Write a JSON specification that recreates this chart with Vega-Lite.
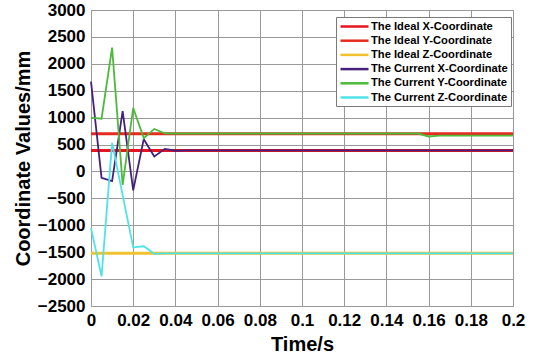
{
  "$schema": "https://vega.github.io/schema/vega-lite/v6.json",
  "width": 422,
  "height": 296,
  "autosize": {"type": "none"},
  "padding": {"left": 91, "top": 10, "right": 21, "bottom": 55},
  "background": "white",
  "config": {
    "font": "Liberation Sans",
    "view": {"stroke": "#8a8a8a", "strokeWidth": 1},
    "axis": {
      "labelFont": "Liberation Sans", "labelFontWeight": "bold", "labelFontSize": 17, "labelColor": "black",
      "titleFont": "Liberation Sans", "titleFontWeight": "bold", "titleFontSize": 20, "titleColor": "black",
      "grid": true, "gridColor": "#9a9a9a", "gridOpacity": 1, "gridWidth": 1,
      "ticks": false, "domain": false, "labelPadding": 6
    },
    "legend": {"strokeColor": "#7a7a7a", "fillColor": "white", "strokeWidth": 1}
  },
  "datasets": {
    "ideal": [
      {"t": 0, "v": 390, "series": "The Ideal X-Coordinate"},
      {"t": 0.2, "v": 390, "series": "The Ideal X-Coordinate"},
      {"t": 0, "v": 700, "series": "The Ideal Y-Coordinate"},
      {"t": 0.2, "v": 700, "series": "The Ideal Y-Coordinate"},
      {"t": 0, "v": -1520, "series": "The Ideal Z-Coordinate"},
      {"t": 0.2, "v": -1520, "series": "The Ideal Z-Coordinate"}
    ],
    "current": [
      {"t": 0, "v": 1670, "series": "The Current X-Coordinate"},
      {"t": 0.005, "v": -120, "series": "The Current X-Coordinate"},
      {"t": 0.01, "v": -180, "series": "The Current X-Coordinate"},
      {"t": 0.015, "v": 1120, "series": "The Current X-Coordinate"},
      {"t": 0.02, "v": -350, "series": "The Current X-Coordinate"},
      {"t": 0.025, "v": 600, "series": "The Current X-Coordinate"},
      {"t": 0.03, "v": 280, "series": "The Current X-Coordinate"},
      {"t": 0.035, "v": 420, "series": "The Current X-Coordinate"},
      {"t": 0.04, "v": 385, "series": "The Current X-Coordinate"},
      {"t": 0.045, "v": 392, "series": "The Current X-Coordinate"},
      {"t": 0.2, "v": 390, "series": "The Current X-Coordinate"},
      {"t": 0, "v": 1000, "series": "The Current Y-Coordinate"},
      {"t": 0.005, "v": 980, "series": "The Current Y-Coordinate"},
      {"t": 0.01, "v": 2300, "series": "The Current Y-Coordinate"},
      {"t": 0.015, "v": -250, "series": "The Current Y-Coordinate"},
      {"t": 0.02, "v": 1180, "series": "The Current Y-Coordinate"},
      {"t": 0.025, "v": 620, "series": "The Current Y-Coordinate"},
      {"t": 0.03, "v": 790, "series": "The Current Y-Coordinate"},
      {"t": 0.035, "v": 710, "series": "The Current Y-Coordinate"},
      {"t": 0.04, "v": 705, "series": "The Current Y-Coordinate"},
      {"t": 0.155, "v": 705, "series": "The Current Y-Coordinate"},
      {"t": 0.16, "v": 650, "series": "The Current Y-Coordinate"},
      {"t": 0.165, "v": 665, "series": "The Current Y-Coordinate"},
      {"t": 0.2, "v": 665, "series": "The Current Y-Coordinate"},
      {"t": 0, "v": -1050, "series": "The Current Z-Coordinate"},
      {"t": 0.005, "v": -1950, "series": "The Current Z-Coordinate"},
      {"t": 0.01, "v": 530, "series": "The Current Z-Coordinate"},
      {"t": 0.015, "v": -440, "series": "The Current Z-Coordinate"},
      {"t": 0.02, "v": -1410, "series": "The Current Z-Coordinate"},
      {"t": 0.025, "v": -1390, "series": "The Current Z-Coordinate"},
      {"t": 0.03, "v": -1530, "series": "The Current Z-Coordinate"},
      {"t": 0.035, "v": -1522, "series": "The Current Z-Coordinate"},
      {"t": 0.2, "v": -1522, "series": "The Current Z-Coordinate"}
    ]
  },
  "encoding": {
    "x": {
      "field": "t", "type": "quantitative", "title": "Time/s",
      "scale": {"domain": [0, 0.2], "nice": false, "zero": false},
      "axis": {"values": [0, 0.02, 0.04, 0.06, 0.08, 0.1, 0.12, 0.14, 0.16, 0.18, 0.2], "format": "~g", "titlePadding": 6, "labelFlush": false}
    },
    "y": {
      "field": "v", "type": "quantitative", "title": "Coordinate Values/mm",
      "scale": {"domain": [-2500, 3000], "nice": false, "zero": false},
      "axis": {"values": [-2500, -2000, -1500, -1000, -500, 0, 500, 1000, 1500, 2000, 2500, 3000], "format": "d", "titlePadding": 4}
    },
    "color": {
      "field": "series", "type": "nominal",
      "scale": {
        "domain": ["The Ideal X-Coordinate", "The Ideal Y-Coordinate", "The Ideal Z-Coordinate", "The Current X-Coordinate", "The Current Y-Coordinate", "The Current Z-Coordinate"],
        "range": ["#E8141B", "#E52A1E", "#F2C12E", "#46207E", "#4DBA3A", "#4FE3EA"]
      },
      "legend": {
        "title": null, "orient": "none", "legendX": 245, "legendY": 7,
        "symbolType": "M-1,0H4.6", "symbolSize": 100, "symbolStrokeWidth": 2.5,
        "labelFont": "Liberation Sans", "labelFontWeight": "bold", "labelFontSize": 11.2, "labelColor": "black",
        "labelOffset": 19, "rowPadding": 2.2, "padding": 3,
        "strokeColor": "#7a7a7a", "fillColor": "white", "cornerRadius": 0
      }
    }
  },
  "layer": [
    {"data": {"name": "ideal"}, "mark": {"type": "line", "strokeWidth": 3}},
    {"data": {"name": "current"}, "mark": {"type": "line", "strokeWidth": 1.8}}
  ]
}
